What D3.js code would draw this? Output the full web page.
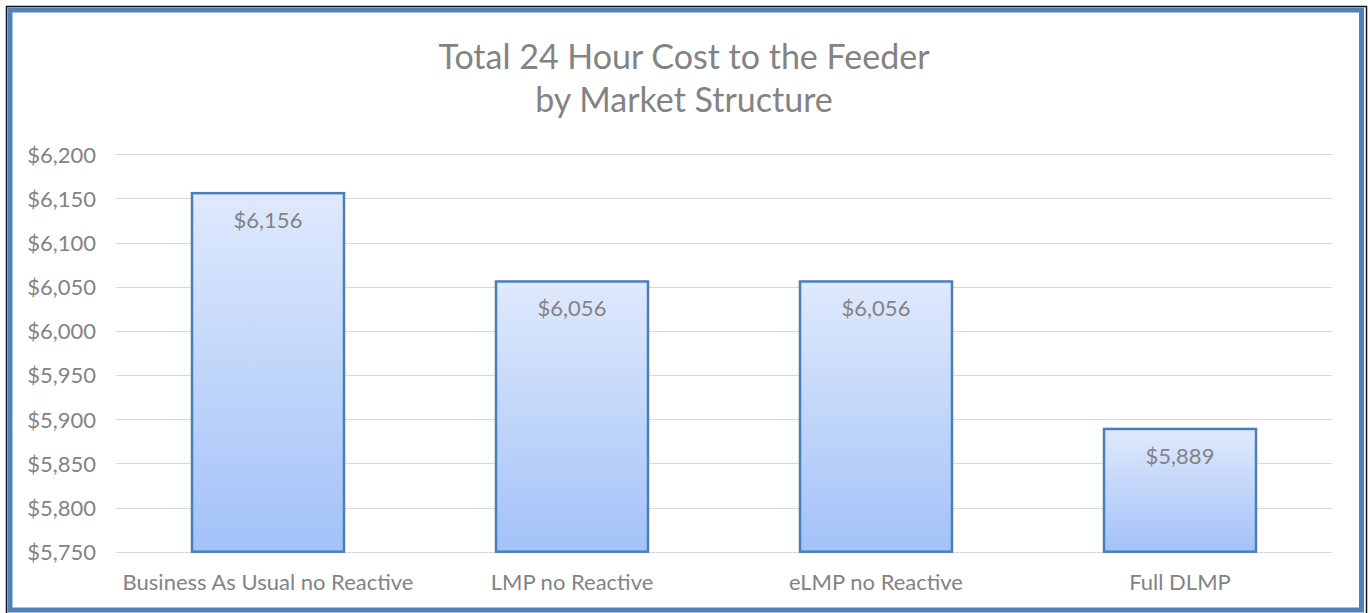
<!DOCTYPE html>
<html><head><meta charset="utf-8">
<script src="https://cdn.jsdelivr.net/npm/d3@7"></script>
<style>html,body{margin:0;padding:0;background:#fff;}svg{display:block;}</style>
</head><body>
<script>
const categories = ["Business As Usual no Reactive", "LMP no Reactive", "eLMP no Reactive", "Full DLMP"];
const values = [6156, 6056, 6056, 5889];
const valueLabels = ["$6,156", "$6,056", "$6,056", "$5,889"];
const yTicks = [5750, 5800, 5850, 5900, 5950, 6000, 6050, 6100, 6150, 6200];
const titleLines = ["Total 24 Hour Cost to the Feeder", "by Market Structure"];

const W = 1370, H = 613;
const svg = d3.select("body").append("svg").attr("width", W).attr("height", H);
const font = "Lato, 'Open Sans', sans-serif";
const gray = "#838383";

// frame
svg.append("rect").attr("x", 6.5).attr("y", 6.5).attr("width", 1360).attr("height", 640)
  .attr("fill", "none").attr("stroke", "#111").attr("stroke-width", 1.5);
svg.append("rect").attr("x", 10).attr("y", 10).attr("width", 1351.5).attr("height", 600)
  .attr("fill", "#fff").attr("stroke", "#4f81bd").attr("stroke-width", 5);

const defs = svg.append("defs");
const grad = defs.append("linearGradient").attr("id", "barGrad")
  .attr("x1", 0).attr("y1", 0).attr("x2", 0).attr("y2", 1);
grad.append("stop").attr("offset", "0%").attr("stop-color", "#dfe9fc");
grad.append("stop").attr("offset", "100%").attr("stop-color", "#a3c2f8");

const x = d3.scaleBand().domain(categories).range([116, 1332]).paddingInner(0.5).paddingOuter(0.25);
const y = d3.scaleLinear().domain([5750, 6200]).range([551.7, 154.3]);

// gridlines
svg.append("g").selectAll("line").data(yTicks).join("line")
  .attr("x1", 116).attr("x2", 1332)
  .attr("y1", d => Math.round(y(d)) + 0.5).attr("y2", d => Math.round(y(d)) + 0.5)
  .attr("stroke", "#d9d9d9").attr("stroke-width", 1);

// y axis labels
const yAxis = d3.axisLeft(y).tickValues(yTicks).tickSize(0).tickPadding(0)
  .tickFormat(d => "$" + d3.format(",")(d));
const yg = svg.append("g").attr("transform", "translate(96,0)").call(yAxis);
yg.select(".domain").remove();
yg.selectAll("text").attr("font-family", font).attr("font-size", 22).attr("fill", gray)
  .attr("dy", "0.36em");

// bars
svg.append("g").selectAll("rect").data(values).join("rect")
  .attr("x", (d, i) => x(categories[i]))
  .attr("y", d => y(d))
  .attr("width", x.bandwidth())
  .attr("height", d => y(5750) - y(d))
  .attr("fill", "url(#barGrad)")
  .attr("stroke", "#4a7ebb").attr("stroke-width", 2.5);

// value labels
svg.append("g").selectAll("text").data(values).join("text")
  .attr("x", (d, i) => x(categories[i]) + x.bandwidth() / 2)
  .attr("y", d => y(d) + 35)
  .attr("text-anchor", "middle")
  .attr("font-family", font).attr("font-size", 22).attr("fill", gray)
  .text((d, i) => valueLabels[i]);

// x axis labels
const xAxis = d3.axisBottom(x).tickSize(0).tickPadding(0);
const xg = svg.append("g").attr("transform", "translate(0,590)").call(xAxis);
xg.select(".domain").remove();
xg.selectAll("text").attr("font-family", font).attr("font-size", 22).attr("fill", gray)
  .attr("dy", 0).attr("y", 0);

// title
svg.append("g").selectAll("text").data(titleLines).join("text")
  .attr("x", 684).attr("y", (d, i) => 69 + i * 43)
  .attr("text-anchor", "middle")
  .attr("font-family", font).attr("font-size", 34).attr("fill", gray)
  .text(d => d);
</script>
</body></html>
